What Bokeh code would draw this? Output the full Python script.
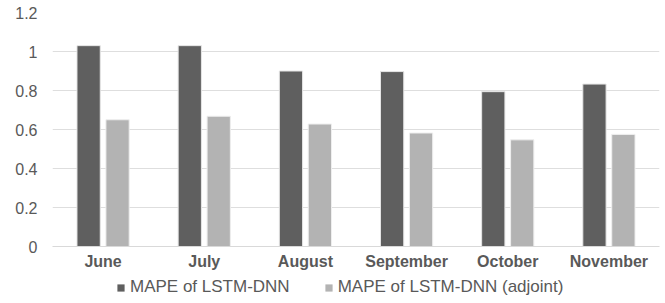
from bokeh.plotting import figure
from bokeh.layouts import column
from bokeh.models import ColumnDataSource, FactorRange, Range1d, Legend, LegendItem, FixedTicker
from bokeh.transform import dodge
from bokeh.embed import file_html
from bokeh.resources import INLINE

months = ["June", "July", "August", "September", "October", "November"]
mape_lstm_dnn = [1.03, 1.03, 0.90, 0.897, 0.794, 0.833]
mape_adjoint = [0.65, 0.668, 0.628, 0.582, 0.547, 0.575]
y_ticks = [0, 0.2, 0.4, 0.6, 0.8, 1.0, 1.2]
y_tick_labels = {0: "0", 0.2: "0.2", 0.4: "0.4", 0.6: "0.6", 0.8: "0.8", 1.0: "1", 1.2: "1.2"}
series_names = ["MAPE of LSTM-DNN", "MAPE of LSTM-DNN (adjoint)"]
colors = ["#5f5f5f", "#b3b3b3"]

src = ColumnDataSource(dict(month=months, a=mape_lstm_dnn, b=mape_adjoint))

p = figure(width=665, height=272, output_backend="svg", toolbar_location=None,
           x_range=FactorRange(*months), y_range=Range1d(0, 1.2),
           min_border_left=52, min_border_right=6, min_border_top=12, min_border_bottom=23)

p.vbar(x=dodge("month", -0.143, range=p.x_range), top="a", width=0.23, source=src,
       fill_color=colors[0], line_color="#e6e6e6", line_width=1)
p.vbar(x=dodge("month", 0.143, range=p.x_range), top="b", width=0.23, source=src,
       fill_color=colors[1], line_color="#eeeeee", line_width=1)

p.outline_line_color = None
p.xgrid.grid_line_color = None
p.ygrid.grid_line_color = "#dedede"
p.ygrid.grid_line_width = 1

p.yaxis.ticker = FixedTicker(ticks=y_ticks)
p.yaxis.major_label_overrides = y_tick_labels
p.yaxis.axis_line_color = None
p.yaxis.major_tick_line_color = None
p.yaxis.minor_tick_line_color = None
p.yaxis.major_tick_out = 0
p.yaxis.major_tick_in = 0
p.yaxis.major_label_standoff = 15
p.yaxis.major_label_text_font = "Liberation Sans"
p.yaxis.major_label_text_font_size = "16px"
p.yaxis.major_label_text_color = "#595959"

p.xaxis.axis_line_color = "#d9d9d9"
p.xaxis.major_tick_line_color = None
p.xaxis.minor_tick_line_color = None
p.xaxis.major_tick_out = 0
p.xaxis.major_tick_in = 0
p.xaxis.major_label_standoff = 6
p.xaxis.major_label_text_font = "Liberation Sans"
p.xaxis.major_label_text_font_size = "16px"
p.xaxis.major_label_text_font_style = "bold"
p.xaxis.major_label_text_color = "#595959"

# legend strip
lg = figure(width=665, height=31, output_backend="svg", toolbar_location=None,
            x_range=FactorRange(*months), y_range=Range1d(0, 1.2),
            x_axis_location=None, y_axis_location=None,
            min_border_left=0, min_border_right=0, min_border_top=0, min_border_bottom=0)
lg.outline_line_color = None
lg.xgrid.grid_line_color = None
lg.ygrid.grid_line_color = None
ra = lg.vbar(x="month", top="a", width=0.23, source=src, fill_color=colors[0], line_color=None)
rb = lg.vbar(x="month", top="b", width=0.23, source=src, fill_color=colors[1], line_color=None)
ra.visible = False
rb.visible = False

legend = Legend(items=[LegendItem(label=series_names[0], renderers=[ra]),
                       LegendItem(label=series_names[1], renderers=[rb])],
                orientation="horizontal", location=(64, 6),
                glyph_width=9, glyph_height=9, label_standoff=5, spacing=34,
                padding=2, margin=0, border_line_color=None, background_fill_alpha=0,
                label_text_font="Liberation Sans", label_text_font_size="17px",
                label_text_color="#595959")
lg.add_layout(legend, "center")

layout = column(p, lg, spacing=0)
open("out.html", "w").write(file_html(layout, INLINE))
